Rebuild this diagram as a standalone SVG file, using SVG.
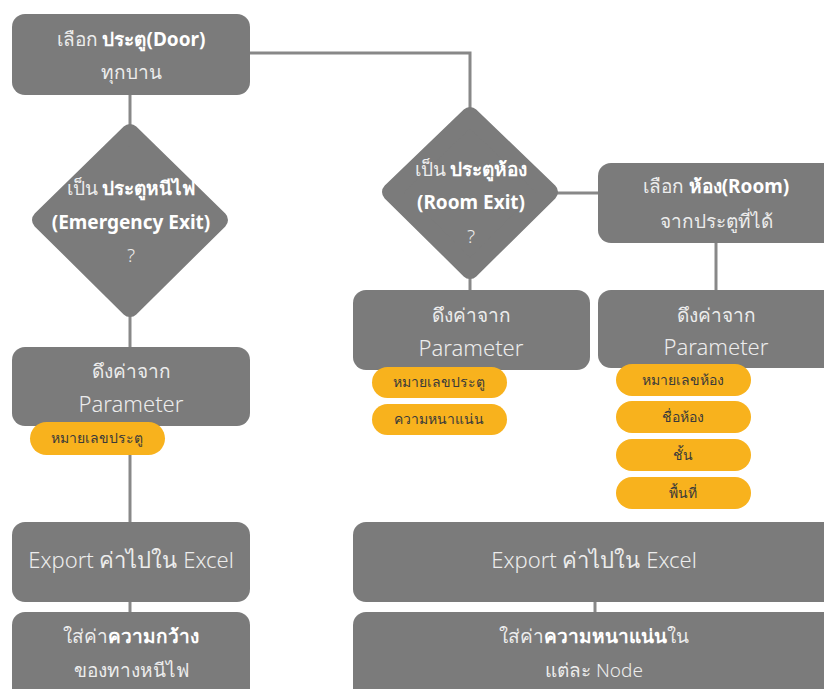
<svg xmlns="http://www.w3.org/2000/svg" width="824" height="689" viewBox="0 0 824 689">
  <style>
    .box { fill: #7b7b7b; }
    .dia { fill: #7b7b7b; stroke: #7b7b7b; stroke-width: 18; stroke-linejoin: round; }
    .pill { fill: #f8b21d; }
    .line { stroke: #888888; stroke-width: 3; fill: none; }
    text { font-family: "Noto Sans", "DejaVu Sans", sans-serif; text-anchor: middle; }
    .t { fill: #ececec; font-size: 19px; font-weight: 300; }
    .big { fill: #ececec; font-size: 22px; font-weight: 300; }
    .b { fill: #ffffff; font-weight: 700; }
    .p { fill: #3a3a3a; font-size: 14px; }
  </style>
  <rect width="824" height="689" fill="#ffffff"/>

  <!-- connectors -->
  <g id="connectors">
    <polyline class="line" points="250,53 470,53 470,108"/>
    <line class="line" x1="130" y1="95" x2="130" y2="125"/>
    <line class="line" x1="130" y1="315" x2="130" y2="347"/>
    <line class="line" x1="130" y1="455" x2="130" y2="522"/>
    <line class="line" x1="130" y1="602" x2="130" y2="612"/>
    <line class="line" x1="550" y1="193" x2="598" y2="193"/>
    <line class="line" x1="470" y1="278" x2="470" y2="290"/>
    <line class="line" x1="716" y1="243" x2="716" y2="290"/>
    <line class="line" x1="595" y1="602" x2="595" y2="612"/>
  </g>

  <!-- select door -->
  <g id="select-door">
    <rect class="box" x="12" y="14" width="238" height="81" rx="13"/>
    <text class="t" x="131" y="46">เลือก <tspan class="b">ประตู(Door)</tspan></text>
    <text class="t" x="131" y="79">ทุกบาน</text>
  </g>

  <!-- emergency exit decision -->
  <g id="is-emergency-exit">
    <polygon class="dia" points="130,133 219,220 130,308 41,220"/>
    <text class="t" x="131" y="195">เป็น <tspan class="b">ประตูหนีไฟ</tspan></text>
    <text class="t b" x="131" y="229">(Emergency Exit)</text>
    <text class="t" x="131" y="262">?</text>
  </g>

  <!-- room exit decision -->
  <g id="is-room-exit">
    <polygon class="dia" points="470,116 549,192 470,270 391,192"/>
    <text class="t" x="471" y="176">เป็น <tspan class="b">ประตูห้อง</tspan></text>
    <text class="t b" x="471" y="209">(Room Exit)</text>
    <text class="t" x="471" y="243">?</text>
  </g>

  <!-- select room -->
  <g id="select-room">
    <rect class="box" x="598" y="163" width="240" height="80" rx="13"/>
    <text class="t" x="716" y="193">เลือก <tspan class="b">ห้อง(Room)</tspan></text>
    <text class="t" x="716" y="228">จากประตูที่ได้</text>
  </g>

  <!-- parameter: emergency exit -->
  <g id="param-emergency">
    <rect class="box" x="12" y="347" width="238" height="79" rx="13"/>
    <text class="t" x="131" y="378">ดึงค่าจาก</text>
    <text class="big" x="131" y="412">Parameter</text>
    <rect class="pill" x="30" y="422" width="135" height="33" rx="16.5"/>
    <text class="p" x="97" y="443">หมายเลขประตู</text>
  </g>

  <!-- parameter: room exit -->
  <g id="param-room-exit">
    <rect class="box" x="353" y="290" width="237" height="80" rx="13"/>
    <text class="t" x="471" y="322">ดึงค่าจาก</text>
    <text class="big" x="471" y="356">Parameter</text>
    <rect class="pill" x="372" y="367" width="135" height="31" rx="15.5"/>
    <text class="p" x="439" y="387">หมายเลขประตู</text>
    <rect class="pill" x="372" y="404" width="135" height="31" rx="15.5"/>
    <text class="p" x="439" y="424">ความหนาแน่น</text>
  </g>

  <!-- parameter: room -->
  <g id="param-room">
    <rect class="box" x="598" y="290" width="240" height="78" rx="13"/>
    <text class="t" x="716" y="322">ดึงค่าจาก</text>
    <text class="big" x="716" y="355">Parameter</text>
    <rect class="pill" x="616" y="364" width="135" height="32" rx="16"/>
    <text class="p" x="683" y="385">หมายเลขห้อง</text>
    <rect class="pill" x="616" y="401" width="135" height="32" rx="16"/>
    <text class="p" x="683" y="422">ชื่อห้อง</text>
    <rect class="pill" x="616" y="439" width="135" height="32" rx="16"/>
    <text class="p" x="683" y="460">ชั้น</text>
    <rect class="pill" x="616" y="477" width="135" height="32" rx="16"/>
    <text class="p" x="683" y="498">พื้นที่</text>
  </g>

  <!-- export: left -->
  <g id="export-left">
    <rect class="box" x="12" y="522" width="238" height="80" rx="13"/>
    <text class="big" x="131" y="568">Export ค่าไปใน Excel</text>
  </g>

  <!-- export: right -->
  <g id="export-right">
    <rect class="box" x="353" y="522" width="485" height="80" rx="13"/>
    <text class="big" x="594" y="568">Export ค่าไปใน Excel</text>
  </g>

  <!-- width result -->
  <g id="width-result">
    <rect class="box" x="12" y="612" width="238" height="90" rx="13"/>
    <text class="t" x="131" y="643">ใส่ค่า<tspan class="b">ความกว้าง</tspan></text>
    <text class="t" x="131" y="677">ของทางหนีไฟ</text>
  </g>

  <!-- density result -->
  <g id="density-result">
    <rect class="box" x="353" y="612" width="485" height="90" rx="13"/>
    <text class="t" x="594" y="643">ใส่ค่า<tspan class="b">ความหนาแน่น</tspan>ใน</text>
    <text class="t" x="594" y="677">แต่ละ Node</text>
  </g>
</svg>
